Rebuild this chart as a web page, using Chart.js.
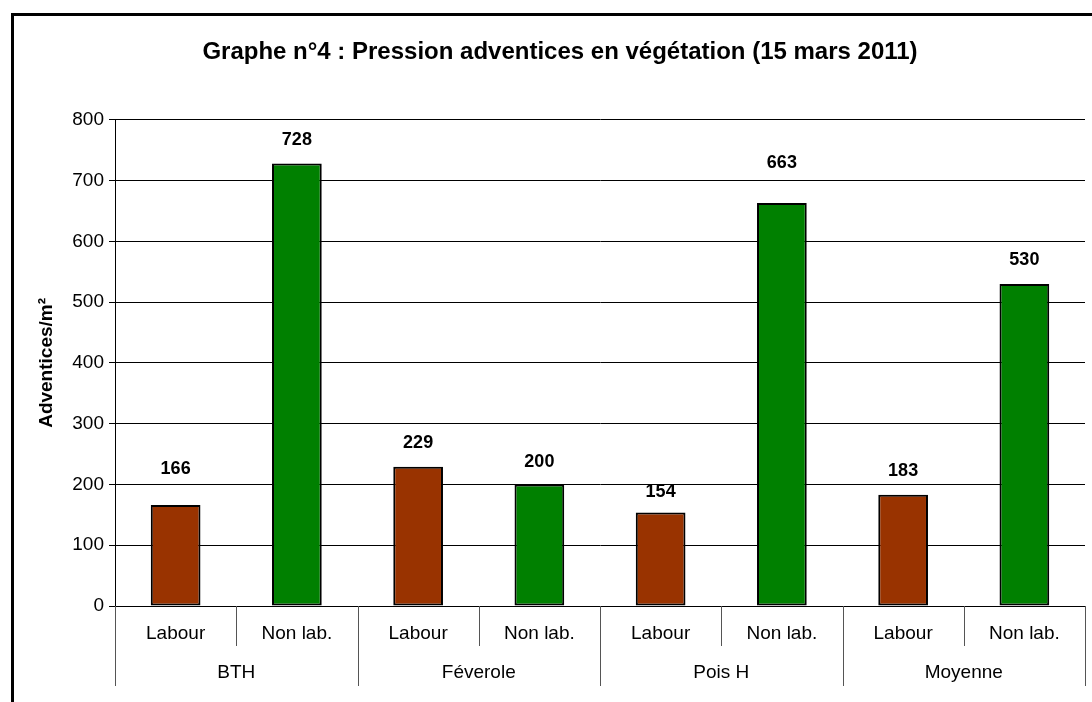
<!DOCTYPE html>
<html>
<head>
<meta charset="utf-8">
<script src="https://cdn.jsdelivr.net/npm/chart.js@4/dist/chart.umd.min.js"></script>
<style>
  html, body { margin: 0; padding: 0; background: #fff; }
</style>
</head>
<body>
<canvas id="weedChart" width="1092" height="702"></canvas>
<script>
const groups = ['BTH', 'Féverole', 'Pois H', 'Moyenne'];
const practices = ['Labour', 'Non lab.'];
const labourValues = [166, 229, 154, 183];
const nonLabValues = [728, 200, 663, 530];
const yMin = 0, yMax = 800, yStep = 100;

// how far each value label sits above its bar top (px)
const labelLift = [36, 24, 24, 22, 20, 40, 24, 24];

const FONT = '"Liberation Sans", Arial, sans-serif';
const BROWN = '#993300';
const GREEN = '#008000';

// one bar per (group, practice)
const categories = [];
const values = [];
const colors = [];
groups.forEach((g, i) => {
  categories.push([practices[0], g]);
  values.push(labourValues[i]);
  colors.push(BROWN);
  categories.push([practices[1], g]);
  values.push(nonLabValues[i]);
  colors.push(GREEN);
});

// white page + frame around the whole chart
const framePlugin = {
  id: 'frame',
  beforeDraw(chart) {
    const c = chart.ctx;
    c.save();
    c.fillStyle = '#fff';
    c.fillRect(0, 0, chart.width, chart.height);
    c.strokeStyle = '#000';
    c.lineWidth = 3;
    c.strokeRect(12.5, 14.5, chart.width + 20, chart.height + 20);
    c.restore();
  }
};

// two-level category axis: practice row, then crop row
const groupAxisPlugin = {
  id: 'groupAxis',
  afterDraw(chart) {
    const c = chart.ctx;
    const xs = chart.scales.x;
    const base = chart.chartArea.bottom;
    const half = (xs.getPixelForValue(1) - xs.getPixelForValue(0)) / 2;
    c.save();
    c.strokeStyle = '#555';
    c.lineWidth = 1;
    c.fillStyle = '#000';
    c.font = '19px ' + FONT;
    c.textAlign = 'center';
    c.textBaseline = 'middle';
    categories.forEach((lab, i) => {
      const cx = xs.getPixelForValue(i);
      c.fillText(lab[0], cx, base + 28);
      const left = Math.round(cx - half) + 0.5;
      const down = (i % 2 === 0) ? 80 : 40;
      c.beginPath();
      c.moveTo(left, base);
      c.lineTo(left, base + down);
      c.stroke();
    });
    const right = Math.round(xs.getPixelForValue(categories.length - 1) + half) + 0.5;
    c.beginPath();
    c.moveTo(right, base);
    c.lineTo(right, base + 80);
    c.stroke();
    groups.forEach((g, i) => {
      const cx = (xs.getPixelForValue(2 * i) + xs.getPixelForValue(2 * i + 1)) / 2;
      c.fillText(g, cx, base + 67);
    });
    c.restore();
  }
};

// value printed above each bar
const valueLabelPlugin = {
  id: 'valueLabels',
  afterDatasetsDraw(chart) {
    const c = chart.ctx;
    const meta = chart.getDatasetMeta(0);
    c.save();
    c.fillStyle = '#000';
    c.font = 'bold 18px ' + FONT;
    c.textAlign = 'center';
    c.textBaseline = 'middle';
    meta.data.forEach((bar, i) => {
      c.fillText(String(values[i]), bar.x, bar.y - labelLift[i]);
    });
    c.restore();
  }
};

new Chart(document.getElementById('weedChart'), {
  type: 'bar',
  data: {
    labels: categories,
    datasets: [{
      data: values,
      backgroundColor: colors,
      borderColor: '#000',
      borderWidth: 2,
      borderSkipped: false,
      categoryPercentage: 1,
      barPercentage: 0.41
    }]
  },
  options: {
    responsive: false,
    animation: false,
    layout: { padding: { left: 35, right: 7, top: 0, bottom: 0 } },
    plugins: {
      legend: { display: false },
      tooltip: { enabled: false },
      title: {
        display: true,
        text: 'Graphe n°4 : Pression adventices en végétation (15 mars 2011)',
        color: '#000',
        font: { family: FONT, size: 24, weight: 'bold' },
        padding: { top: 38, bottom: 53 }
      }
    },
    scales: {
      x: {
        grid: { display: false },
        border: { display: false },
        ticks: { display: false },
        afterFit(scale) { scale.height = 96; }
      },
      y: {
        min: yMin,
        max: yMax,
        ticks: {
          stepSize: yStep,
          color: '#000',
          padding: 5,
          font: { family: FONT, size: 19 }
        },
        grid: { color: '#000', lineWidth: 1, tickLength: 6 },
        border: { color: '#000', width: 1 },
        title: {
          display: true,
          text: 'Adventices/m²',
          color: '#000',
          font: { family: FONT, size: 19, weight: 'bold' },
          padding: { top: 0, bottom: 0 }
        },
        afterFit(scale) { scale.width = 80; }
      }
    }
  },
  plugins: [framePlugin, groupAxisPlugin, valueLabelPlugin]
});
</script>
</body>
</html>
